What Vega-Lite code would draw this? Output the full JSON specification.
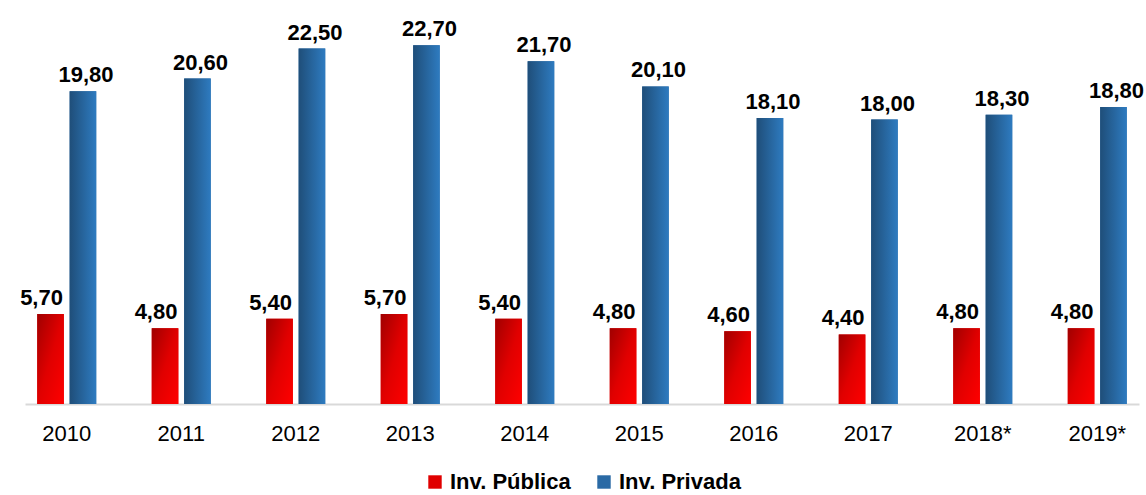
{
  "$schema": "https://vega.github.io/schema/vega-lite/v6.json",
  "width": 1114,
  "height": 395,
  "padding": {"left": 20, "top": 9, "right": 12, "bottom": 0},
  "config": {
    "view": {"stroke": null},
    "font": "Liberation Sans",
    "legend": {"layout": {"bottom": {"anchor": "middle"}}},
    "locale": {"number": {"decimal": ",", "thousands": ".", "grouping": [3], "currency": ["", ""]}}
  },
  "data": {
    "values": [
      {"ano": "2010", "serie": "Inv. Pública", "valor": 5.7},
      {"ano": "2010", "serie": "Inv. Privada", "valor": 19.8},
      {"ano": "2011", "serie": "Inv. Pública", "valor": 4.8},
      {"ano": "2011", "serie": "Inv. Privada", "valor": 20.6},
      {"ano": "2012", "serie": "Inv. Pública", "valor": 5.4},
      {"ano": "2012", "serie": "Inv. Privada", "valor": 22.5},
      {"ano": "2013", "serie": "Inv. Pública", "valor": 5.7},
      {"ano": "2013", "serie": "Inv. Privada", "valor": 22.7},
      {"ano": "2014", "serie": "Inv. Pública", "valor": 5.4},
      {"ano": "2014", "serie": "Inv. Privada", "valor": 21.7},
      {"ano": "2015", "serie": "Inv. Pública", "valor": 4.8},
      {"ano": "2015", "serie": "Inv. Privada", "valor": 20.1},
      {"ano": "2016", "serie": "Inv. Pública", "valor": 4.6},
      {"ano": "2016", "serie": "Inv. Privada", "valor": 18.1},
      {"ano": "2017", "serie": "Inv. Pública", "valor": 4.4},
      {"ano": "2017", "serie": "Inv. Privada", "valor": 18.0},
      {"ano": "2018*", "serie": "Inv. Pública", "valor": 4.8},
      {"ano": "2018*", "serie": "Inv. Privada", "valor": 18.3},
      {"ano": "2019*", "serie": "Inv. Pública", "valor": 4.8},
      {"ano": "2019*", "serie": "Inv. Privada", "valor": 18.8}
    ]
  },
  "encoding": {
    "x": {
      "field": "ano", "type": "nominal", "sort": null,
      "scale": {"paddingInner": 0.485, "paddingOuter": 0.107},
      "axis": {
        "title": null, "labelAngle": 0, "ticks": false,
        "domainColor": "#d9d9d9", "domainWidth": 2,
        "labelFontSize": 22, "labelColor": "#000000", "labelPadding": 19,
        "labelFont": "Liberation Sans"
      }
    },
    "xOffset": {
      "field": "serie", "type": "nominal",
      "sort": ["Inv. Pública", "Inv. Privada"],
      "scale": {"domain": ["Inv. Pública", "Inv. Privada"], "paddingInner": 0.18}
    },
    "y": {
      "field": "valor", "type": "quantitative",
      "scale": {"domain": [0, 25]},
      "axis": null
    }
  },
  "layer": [
    {
      "mark": {"type": "bar"},
      "encoding": {
        "color": {
          "field": "serie", "type": "nominal",
          "scale": {"domain": ["Inv. Pública", "Inv. Privada"], "range": ["#e00000", "#2a6aa5"]},
          "legend": {
            "title": null, "orient": "bottom", "direction": "horizontal",
            "symbolType": "square", "symbolSize": 180, "symbolStrokeWidth": 0,
            "labelFontSize": 22, "labelFontWeight": "bold", "labelColor": "#000000",
            "labelFont": "Liberation Sans", "columnPadding": 22, "offset": 27, "labelOffset": 4
          }
        }
      }
    },
    {
      "transform": [{"filter": "datum.serie === 'Inv. Pública'"}],
      "mark": {
        "type": "bar",
        "fill": {
          "gradient": "linear", "x1": 0, "y1": 0, "x2": 1, "y2": 1,
          "stops": [{"offset": 0, "color": "#a00000"}, {"offset": 0.5, "color": "#e00000"}, {"offset": 1, "color": "#ff0000"}]
        }
      }
    },
    {
      "transform": [{"filter": "datum.serie === 'Inv. Privada'"}],
      "mark": {
        "type": "bar",
        "fill": {
          "gradient": "linear", "x1": 0, "y1": 0, "x2": 1, "y2": 0,
          "stops": [{"offset": 0, "color": "#1f4e79"}, {"offset": 1, "color": "#2e7bc0"}]
        }
      }
    },
    {
      "transform": [{"filter": "datum.serie === 'Inv. Pública'"}],
      "mark": {"type": "text", "dx": -9, "dy": -9, "baseline": "alphabetic", "fontSize": 22, "fontWeight": "bold", "font": "Liberation Sans", "color": "#000000"},
      "encoding": {"text": {"field": "valor", "type": "quantitative", "format": ".2f"}}
    },
    {
      "transform": [{"filter": "datum.serie === 'Inv. Privada'"}],
      "mark": {"type": "text", "dx": 3, "dy": -9, "baseline": "alphabetic", "fontSize": 22, "fontWeight": "bold", "font": "Liberation Sans", "color": "#000000"},
      "encoding": {"text": {"field": "valor", "type": "quantitative", "format": ".2f"}}
    }
  ]
}
